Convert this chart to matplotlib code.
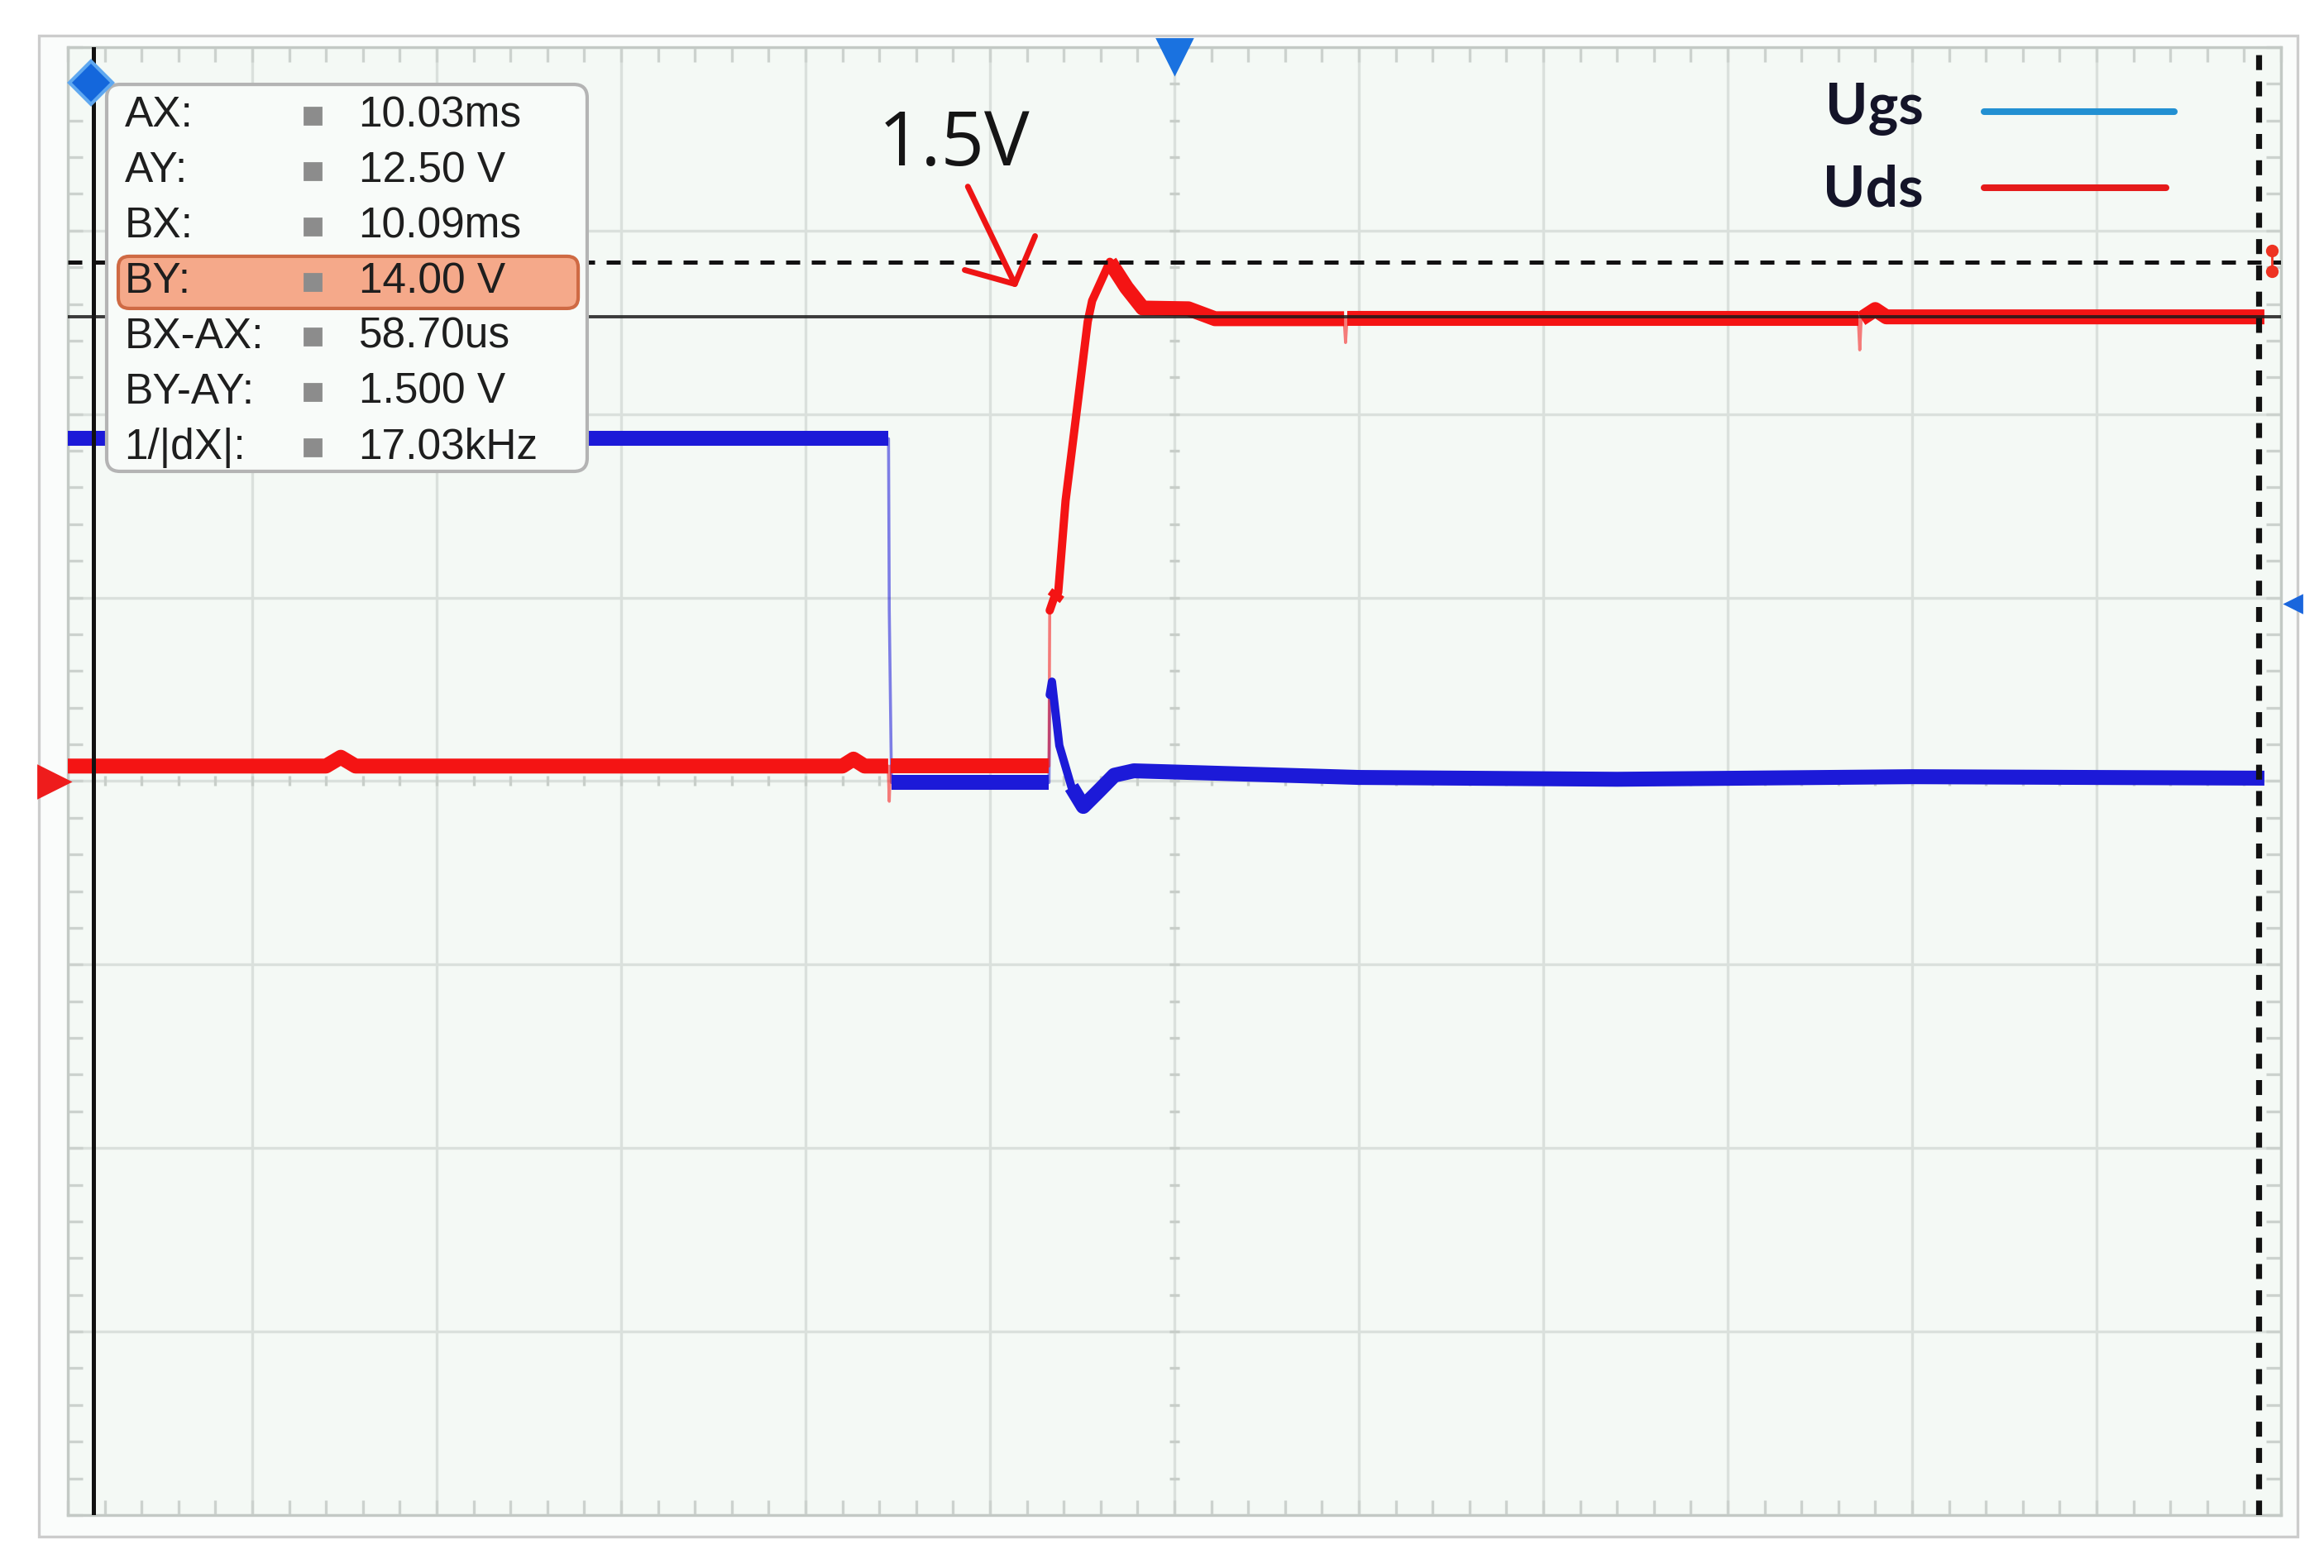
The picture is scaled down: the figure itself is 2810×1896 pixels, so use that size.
import numpy as np
import matplotlib
matplotlib.use('Agg')
import matplotlib.pyplot as plt
from matplotlib.patches import FancyBboxPatch, Rectangle
from matplotlib import font_manager

# --- scope data (time in us, 5 us/div ; both channels 5 V/div) ---
uds_t = [0.0, 7.0, 7.4, 7.8, 21.0, 21.3, 21.6, 22.24, 22.27, 22.30, 26.60, 26.62,
         26.73, 26.85, 27.05, 27.33, 27.65, 27.77, 28.25, 28.70, 29.14, 30.38,
         31.10, 34.60, 34.64, 34.68, 48.54, 48.58, 48.62, 49.0, 49.3, 59.55]
uds_v = [0.26, 0.26, 0.50, 0.26, 0.26, 0.45, 0.26, 0.26, -0.70, 0.26, 0.26, 4.50,
         4.82, 4.99, 7.49, 9.75, 12.37, 12.94, 14.00, 13.30, 12.74, 12.72,
         12.45, 12.45, 11.80, 12.45, 12.45, 11.60, 12.45, 12.70, 12.50, 12.50]

ugs_t = [0.0, 22.25, 22.27, 22.33, 26.60, 26.62, 26.68, 26.88, 27.21, 27.53,
         27.93, 28.37, 28.90, 35.0, 42.0, 50.0, 59.55]
ugs_v = [9.18, 9.18, 4.50, -0.19, -0.19, 2.20, 2.56, 0.82, -0.31, -0.84,
         -0.44, 0.01, 0.13, -0.05, -0.10, -0.03, -0.07]

# cursors
cur_ax = 0.70
cur_bx = cur_ax + 58.70
cur_ay = 12.50
cur_by = 14.00

readout_labels = ['AX:', 'AY:', 'BX:', 'BY:', 'BX-AX:', 'BY-AY:', '1/|dX|:']
readout_values = ['10.03ms', '12.50 V', '10.09ms', '14.00 V', '58.70us', '1.500 V', '17.03kHz']

legend_names = ['Ugs', 'Uds']
legend_colors = ['#2290d2', '#e51a1a']

note_text = '1.5V'
note_pos = (21.97, 16.63)
arrow_start = (24.40, 16.05)
arrow_tip = (25.72, 13.30)

installed = {f.name for f in font_manager.fontManager.ttflist}
if 'Liberation Sans Narrow' in installed:
    ro_font, ro_size = 'Liberation Sans Narrow', 20.5
else:
    ro_font, ro_size = 'Liberation Sans', 18.5

fig = plt.figure(figsize=(14.05, 9.48), dpi=200)
fig.patch.set_facecolor('white')
fig.add_artist(Rectangle((0.01673, 0.02004), 0.97188, 0.95728, transform=fig.transFigure,
                         facecolor='#fafcfb', edgecolor='#cccccc', linewidth=1.2, zorder=-1))

ax = fig.add_axes([0.02918, 0.03376, 0.95231, 0.93618])
ax.set_facecolor('#f4f9f5')
ax.set_xlim(0, 60)
ax.set_ylim(-20.15, 19.85)
ax.set_xticks(np.arange(0, 61, 5))
ax.set_yticks(np.linspace(-20.15, 19.85, 9))
ax.set_xticks(np.arange(0, 61, 1), minor=True)
ax.set_yticks(np.linspace(-20.15, 19.85, 41), minor=True)
ax.tick_params(which='both', direction='in', top=True, right=True,
               labelbottom=False, labelleft=False, color='#ccd2ce', width=1.2, length=6.5)
ax.set_axisbelow(True)
ax.grid(True, which='major', color='#dae0dc', lw=1.2)
for s in ax.spines.values():
    s.set_color('#c3c9c5')
    s.set_linewidth(1.2)

# centre cross ticks
ax.plot(np.arange(1, 60) / 60, [0.5] * 59, transform=ax.transAxes, ls='none',
        marker='|', ms=4.5, mew=1.2, color='#c8cec9', zorder=1)
ax.plot([0.5] * 39, np.arange(1, 40) / 40, transform=ax.transAxes, ls='none',
        marker='_', ms=4.5, mew=1.2, color='#c8cec9', zorder=1)


def draw_trace(t, v, color, z=3):
    # slow parts drawn thick, fast edges thin (like scope persistence)
    t = np.asarray(t, float)
    v = np.asarray(v, float)
    slope = np.abs(np.diff(v) / np.diff(t))
    cls = np.where(slope < 2.0, 0, np.where(slope < 15, 1, 2))
    widths = [6.5, 3.6, 1.3]
    alphas = [1.0, 1.0, 0.55]
    caps = ['butt', 'round', 'round']
    n = len(cls)
    i = 0
    while i < n:
        j = i
        while j < n and cls[j] == cls[i]:
            j += 1
        c = cls[i]
        ax.plot(t[i:j + 1], v[i:j + 1], color=color, lw=widths[c], alpha=alphas[c],
                solid_capstyle=caps[c], solid_joinstyle='round', zorder=z + (c == 1) * 0.1)
        i = j


draw_trace(ugs_t, ugs_v, '#1c1ad8')
draw_trace(uds_t, uds_v, '#f41414')

# cursors
ax.axvline(cur_ax, color='#111111', lw=1.8, zorder=5)
ax.axvline(cur_bx, color='#111111', lw=2.6, ls=(0, (2.5, 1.9)), zorder=5)
ax.axhline(cur_ay, color='#1a1a1a', lw=1.4, alpha=0.85, zorder=5)
ax.axhline(cur_by, color='#111111', lw=1.8, ls=(0, (3.4, 2.8)), zorder=5)

# channel / trigger markers
ax.plot([0.0105], [0.9758], transform=ax.transAxes, marker='D', ms=13, color='#1467dc',
        mec='#5fa8f0', mew=1.5, clip_on=False, zorder=8)
ax.plot([0.5], [0.9938], transform=ax.transAxes, marker='v', ms=15, color='#1a72e0',
        clip_on=False, zorder=8)
ax.plot([-0.0064], [0.4997], transform=ax.transAxes, marker='>', ms=14, color='#ee1c1c',
        clip_on=False, zorder=8)
ax.plot([1.0056], [0.6208], transform=ax.transAxes, marker='<', ms=7, color='#1a66dd',
        clip_on=False, zorder=8)
ax.plot([0.9959, 0.9959], [0.8614, 0.8473], transform=ax.transAxes, marker='o', ms=4.5,
        color='#ee3322', lw=1.0, clip_on=False, zorder=8)

# readout box
ax.add_patch(FancyBboxPatch((0.01756, 0.711), 0.2171, 0.2636,
                            boxstyle='round,pad=0,rounding_size=0.006', mutation_aspect=1.5,
                            transform=ax.transAxes, facecolor='#f8fbf9', edgecolor='#b4b4b4',
                            lw=1.5, zorder=7))
ax.add_patch(FancyBboxPatch((0.0228, 0.822), 0.2078, 0.0355,
                            boxstyle='round,pad=0,rounding_size=0.005', mutation_aspect=1.5,
                            transform=ax.transAxes, facecolor='#f5a98a', edgecolor='#cf6a44',
                            lw=1.5, zorder=7.5))
for i, (lab, val) in enumerate(zip(readout_labels, readout_values)):
    y = 0.9533 - i * 0.03768
    ax.text(0.0256, y, lab, transform=ax.transAxes, ha='left', va='center',
            family=ro_font, fontsize=ro_size, color='#1e1e1e', zorder=8)
    ax.plot([0.1107], [y], transform=ax.transAxes, marker='s', ms=7, color='#8c8c8c',
            zorder=8)
    ax.text(0.1314, y, val, transform=ax.transAxes, ha='left', va='center',
            family=ro_font, fontsize=ro_size, color='#1e1e1e', zorder=8)

# legend
leg_y_text = [0.9476, 0.8913]
leg_y_line = [0.9561, 0.9042]
leg_x_end = [0.9518, 0.9481]
for name, col, yt, yl, xe in zip(legend_names, legend_colors, leg_y_text, leg_y_line, leg_x_end):
    ax.text(0.8386, yt, name, transform=ax.transAxes, ha='right', va='baseline',
            family=['Lato', 'DejaVu Sans'], fontweight='bold', fontsize=25, color='#141428',
            zorder=8)
    ax.plot([0.8658, xe], [yl, yl], transform=ax.transAxes, color=col, lw=2.9,
            solid_capstyle='round', zorder=8)

# annotation
ax.text(note_pos[0], note_pos[1], note_text, ha='left', va='baseline',
        family=['Open Sans', 'DejaVu Sans'], fontsize=33, color='#151515', zorder=8)
ax.annotate('', xy=arrow_tip, xytext=arrow_start,
            arrowprops=dict(arrowstyle='->,head_length=0.75,head_width=0.85',
                            mutation_scale=20, color='#ee1414', lw=2.5,
                            shrinkA=0, shrinkB=0), zorder=8)

fig.savefig('out.png', dpi=200, facecolor='white')
